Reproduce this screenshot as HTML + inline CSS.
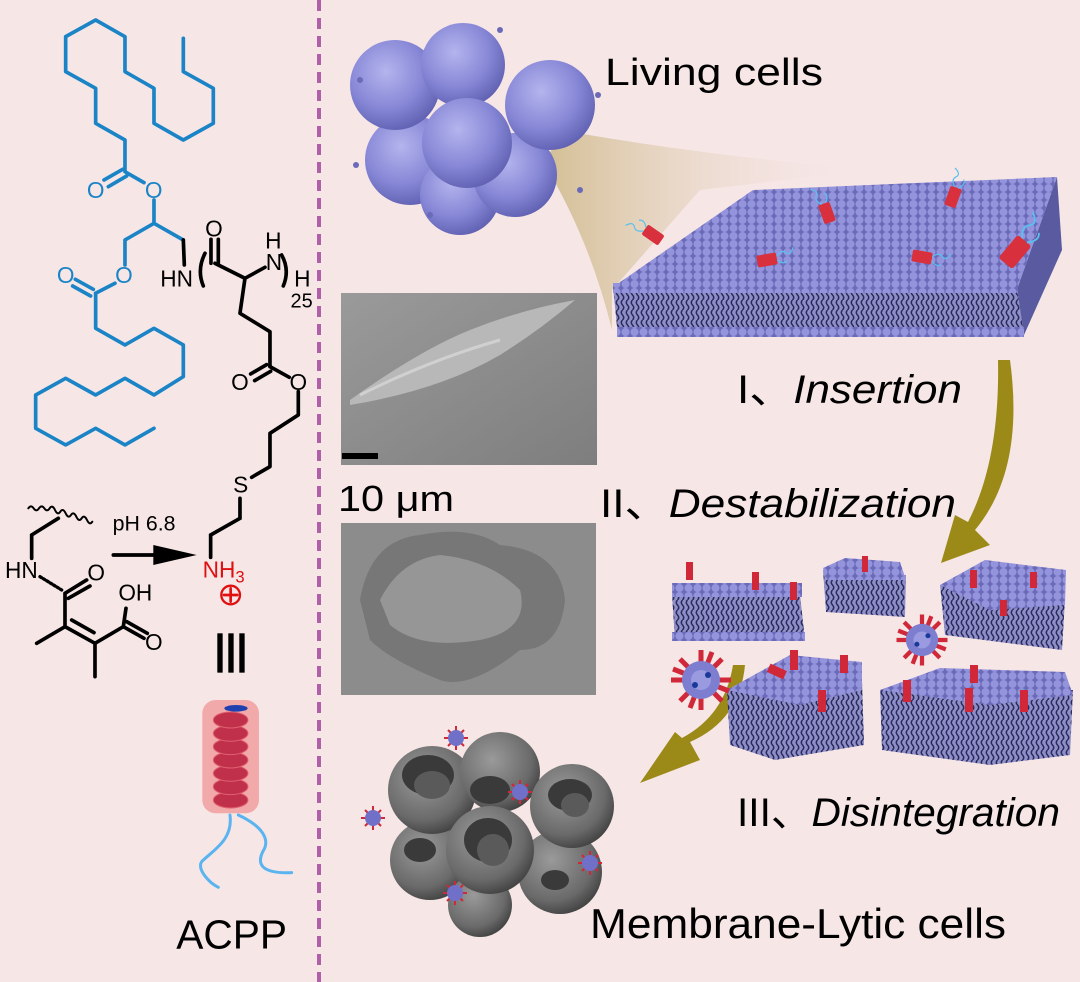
<!DOCTYPE html>
<html><head><meta charset="utf-8"><style>
html,body{margin:0;padding:0;background:#f6e6e6;}
svg{display:block;}
text{font-family:"Liberation Sans",sans-serif;}
</style></head><body>
<svg width="1080" height="982" viewBox="0 0 1080 982" xmlns="http://www.w3.org/2000/svg">
<defs>
<radialGradient id="cell" cx="0.4" cy="0.35" r="0.7">
<stop offset="0" stop-color="#b4b4ee"/><stop offset="0.6" stop-color="#8686d6"/><stop offset="1" stop-color="#5e5eb0"/>
</radialGradient>
<radialGradient id="dead" cx="0.4" cy="0.35" r="0.7">
<stop offset="0" stop-color="#9a9a9a"/><stop offset="0.7" stop-color="#6a6a6a"/><stop offset="1" stop-color="#3e3e3e"/>
</radialGradient>
<linearGradient id="cone" x1="0" y1="0" x2="1" y2="0">
<stop offset="0" stop-color="#c8b27a" stop-opacity="0.9"/><stop offset="1" stop-color="#f6e6e6" stop-opacity="0"/>
</linearGradient>
<pattern id="heads" width="9" height="8" patternUnits="userSpaceOnUse">
<rect width="9" height="8" fill="#6a6ab8"/><circle cx="4.5" cy="4" r="4" fill="#9494dc"/>
</pattern>
<pattern id="tails" width="5" height="10" patternUnits="userSpaceOnUse">
<rect width="5" height="10" fill="#8e8ec8"/><path d="M2.5,0 Q0,2.5 2.5,5 Q5,7.5 2.5,10" stroke="#2a2a5a" stroke-width="1.5" fill="none"/>
</pattern>
<linearGradient id="sem1" x1="0" y1="0" x2="1" y2="1">
<stop offset="0" stop-color="#9a9a9a"/><stop offset="1" stop-color="#7e7e7e"/>
</linearGradient>
<g id="pep"><rect x="-6" y="-10" width="12" height="20" rx="2" fill="#d8303c"/><path d="M-2,-10 q-6,-6 -2,-10 t-4,-8 M2,-10 q6,-6 2,-10" stroke="#5ac0f0" stroke-width="1.2" fill="none"/></g>
<g id="mic"><g stroke="#d02838" stroke-width="5"><line x1="-30" y1="0" x2="30" y2="0"/><line x1="0" y1="-30" x2="0" y2="30"/><line x1="-21" y1="-21" x2="21" y2="21"/><line x1="-21" y1="21" x2="21" y2="-21"/><line x1="-28" y1="-11" x2="28" y2="11"/><line x1="-11" y1="28" x2="11" y2="-28"/></g><circle r="19" fill="#7e7ed0"/><circle r="10" fill="#9a9ae0"/><circle cx="-6" cy="5" r="3" fill="#1a3a9a"/><circle cx="7" cy="-5" r="3" fill="#1a3a9a"/></g>
<g id="smic"><g stroke="#d02838" stroke-width="2"><line x1="-12" y1="0" x2="12" y2="0"/><line x1="0" y1="-12" x2="0" y2="12"/><line x1="-8" y1="-8" x2="8" y2="8"/><line x1="-8" y1="8" x2="8" y2="-8"/></g><circle r="8" fill="#7070c8"/></g>
</defs>

<rect width="1080" height="982" fill="#f6e6e6"/>
<line x1="319" y1="0" x2="319" y2="982" stroke="#b060a8" stroke-width="4" stroke-dasharray="11,7"/>

<g transform="scale(0.3333)" fill="none" stroke-linejoin="round" stroke-linecap="round">
<g stroke="#1a84c6" stroke-width="11">
<path d="M550,115 L550,215 L640,265 L640,370 L550,420 L462,370 L462,265 L375,215 L375,110 L287,60 L197,110 L197,215 L287,265 L287,370 L375,420 L375,515"/>
<path d="M368,508 L312,540 M380,528 L325,560 M378,517 L432,548"/>
<path d="M462,600 L462,670 L375,720 L375,795 M462,670 L550,720"/>
<path d="M345,850 L287,880 M280,868 L226,838 M272,888 L218,858"/>
<path d="M287,880 L287,985 L375,1035 L462,985 L550,1035 L550,1130 L462,1185 L375,1135 L287,1185 L197,1135 L107,1185 L107,1285 L197,1335 L287,1285 L375,1335 L462,1285"/>
</g>
<g fill="#1a84c6" font-size="68" text-anchor="middle"><text x="287" y="594" stroke="none">O</text><text x="461" y="594" stroke="none">O</text><text x="372" y="849" stroke="none">O</text><text x="197" y="849" stroke="none">O</text></g>
<g stroke="#000" stroke-width="11">
<path d="M550,720 L553,795"/>
<path d="M633,718 L633,790 M655,718 L655,790 M645,790 L735,835 L795,802 M735,835 L720,940 L810,995 L810,1100"/>
<path d="M800,1094 L752,1122 M812,1114 L764,1142 M810,1100 L868,1132 M895,1175 L895,1245 L810,1300 L810,1400 L755,1432"/>
<path d="M615,760 Q590,810 610,858 M845,765 Q870,810 850,858"/>
</g>
<g fill="#000" font-size="68" text-anchor="middle" stroke="none">
<text x="530" y="860">HN</text><text x="642" y="710">O</text><text x="822" y="810">N</text><text x="820" y="745">H</text><text x="907" y="860">H</text><text x="905" y="922" font-size="60">25</text><text x="720" y="1170">O</text><text x="895" y="1170">O</text>
</g>
</g>

<g transform="translate(0,480) scale(0.3333)" fill="none" stroke-linecap="round">
<text x="722" y="38" font-size="68" text-anchor="middle" fill="#000">S</text>
<path d="M720,55 L720,115 L632,165 L632,232" stroke="#000" stroke-width="11"/>
<text x="608" y="292" font-size="68" fill="#e01010">NH<tspan font-size="50" dy="16">3</tspan></text>
<circle cx="692" cy="345" r="28" stroke="#e01010" stroke-width="7"/>
<path d="M692,325 L692,365 M672,345 L712,345" stroke="#e01010" stroke-width="8"/>
<rect x="652" y="460" width="16" height="118" fill="#000"/><rect x="685" y="460" width="16" height="118" fill="#000"/><rect x="718" y="460" width="16" height="118" fill="#000"/>
<path d="M85,85 q8,-12 16,0 t16,0 t16,0 t16,0 t16,5 t16,5 t16,5 t16,5 t16,5 t16,5 t16,5 t16,5" stroke="#000" stroke-width="6"/>
<path d="M175,115 L95,165 L95,235 M195,340 L260,300 M205,355 L270,318 M195,340 L195,440 L110,490 M195,440 L285,490 M215,420 L282,458 M285,490 L285,590 M285,490 L370,440 L378,385 M370,440 L432,475 M380,425 L442,460" stroke="#000" stroke-width="11"/>
<path d="M120,290 L185,330" stroke="#000" stroke-width="10" stroke-dasharray="5,7"/>
<g fill="#000" font-size="68"><text x="15" y="294">HN</text><text x="262" y="302">O</text><text x="355" y="362">OH</text><text x="435" y="510">O</text><text x="338" y="152" font-size="64">pH 6.8</text></g>
<path d="M340,225 L470,225" stroke="#000" stroke-width="11"/>
<polygon points="460,195 590,225 460,255" fill="#000"/>
<rect x="607" y="660" width="170" height="340" rx="40" fill="#f08080" fill-opacity="0.6"/>
<g fill="#c0304a" stroke="#e06070" stroke-width="3">
<ellipse cx="692" cy="960" rx="52" ry="24"/><ellipse cx="692" cy="920" rx="52" ry="24"/><ellipse cx="692" cy="880" rx="52" ry="24"/><ellipse cx="692" cy="840" rx="52" ry="24"/><ellipse cx="692" cy="800" rx="52" ry="24"/><ellipse cx="692" cy="760" rx="52" ry="24"/><ellipse cx="692" cy="720" rx="52" ry="24"/>
</g>
<ellipse cx="708" cy="685" rx="35" ry="10" fill="#2040b0"/>
<path d="M690,1005 C700,1080 640,1110 605,1145 C590,1170 630,1210 655,1222 M715,1005 C790,1040 810,1080 790,1112 C770,1150 780,1182 875,1178" stroke="#5ab4f0" stroke-width="9"/>
<text x="695" y="1405" font-size="122" text-anchor="middle" fill="#000">ACPP</text>
</g>

<path d="M560,130 Q700,155 870,170 L700,190 L612,290 L612,330 Q590,240 545,165 Z" fill="url(#cone)" opacity="0.85"/>
<g>
<circle cx="410" cy="160" r="45" fill="url(#cell)"/>
<circle cx="460" cy="195" r="40" fill="url(#cell)"/>
<circle cx="515" cy="175" r="42" fill="url(#cell)"/>
<circle cx="395" cy="85" r="45" fill="url(#cell)"/>
<circle cx="463" cy="65" r="42" fill="url(#cell)"/>
<circle cx="550" cy="105" r="45" fill="url(#cell)"/>
<circle cx="467" cy="143" r="45" fill="url(#cell)"/>
<g fill="#6a6ab8"><circle cx="360" cy="80" r="3"/><circle cx="598" cy="95" r="3"/><circle cx="500" cy="30" r="3"/><circle cx="356" cy="165" r="3"/><circle cx="430" cy="215" r="3"/><circle cx="580" cy="190" r="3"/></g>
</g>
<text x="605" y="85" font-size="38" textLength="218" lengthAdjust="spacingAndGlyphs" fill="#000">Living cells</text>

<polygon points="613,287 1017,289 1024,335 618,337" fill="url(#tails)"/>
<polygon points="1017,289 1057,177 1062,250 1024,335" fill="#5a5aa0"/>
<polygon points="613,287 753,190 1057,177 1017,289" fill="url(#heads)"/>
<rect x="613" y="283" width="405" height="10" fill="url(#heads)"/>
<rect x="617" y="327" width="407" height="10" fill="url(#heads)"/>
<use href="#pep" transform="translate(653,235) rotate(-55)"/>
<use href="#pep" transform="translate(827,213) rotate(-20)"/>
<use href="#pep" transform="translate(953,197) rotate(20)"/>
<use href="#pep" transform="translate(767,260) rotate(80)"/>
<use href="#pep" transform="translate(922,257) rotate(100)"/>
<use href="#pep" transform="translate(1015,252) rotate(40) scale(1.5)"/>
<text x="737" y="403" font-size="40" fill="#000" textLength="225" lengthAdjust="spacingAndGlyphs">I、<tspan font-style="italic">Insertion</tspan></text>

<rect x="341" y="293" width="256" height="172" fill="url(#sem1)"/>
<path d="M350,400 Q420,350 470,330 Q520,310 575,300 Q540,330 500,355 Q440,390 350,405 Z" fill="#b8b8b8"/>
<path d="M360,395 Q430,360 500,340" stroke="#d0d0d0" stroke-width="3" fill="none"/>
<rect x="342" y="453" width="36" height="6" fill="#000"/>
<text x="338" y="511" font-size="36" fill="#000" textLength="116" lengthAdjust="spacingAndGlyphs">10 μm</text>
<rect x="341" y="523" width="255" height="172" fill="#8c8c8c"/>
<path d="M360,600 Q370,540 420,535 Q470,525 500,545 Q560,550 565,600 Q560,650 520,650 Q470,690 440,680 Q390,660 370,640 Z" fill="#777"/>
<path d="M380,600 Q400,560 440,555 Q490,560 520,590 Q530,630 480,640 Q420,650 390,625 Z" fill="#a4a4a4" opacity="0.7"/>
<text x="600" y="517" font-size="40" fill="#000" textLength="356" lengthAdjust="spacingAndGlyphs">II、<tspan font-style="italic">Destabilization</tspan></text>

<path d="M1010,360 Q1025,470 975,530 L990,545 L941,563 L955,515 L968,522 Q1000,460 998,360 Z" fill="#9c8a18"/>
<path d="M745,665 Q740,720 690,742 L700,760 L640,783 L675,732 L682,738 Q725,715 733,665 Z" fill="#9c8a18"/>

<g>
<polygon points="672,595 800,595 805,640 675,640" fill="url(#tails)"/><rect x="672" y="583" width="130" height="14" fill="url(#heads)"/><rect x="672" y="632" width="133" height="9" fill="url(#heads)"/>
<rect x="686" y="562" width="7" height="18" fill="#d02838"/><rect x="752" y="572" width="7" height="18" fill="#d02838"/><rect x="790" y="582" width="7" height="18" fill="#d02838"/>
<polygon points="823,570 906,575 905,617 826,612" fill="url(#tails)"/><polygon points="823,568 845,558 900,562 906,580 826,580" fill="url(#heads)"/>
<rect x="862" y="556" width="6" height="16" fill="#d02838"/>
<polygon points="940,585 1065,600 1062,650 945,635" fill="url(#tails)"/><polygon points="940,585 985,560 1066,570 1065,605 990,610" fill="url(#heads)"/>
<rect x="970" y="570" width="7" height="18" fill="#d02838"/><rect x="1030" y="572" width="7" height="16" fill="#d02838"/><rect x="1000" y="600" width="7" height="16" fill="#d02838"/>
<polygon points="727,690 862,680 864,745 775,760 730,745" fill="url(#tails)"/><polygon points="727,690 790,655 862,662 862,690 800,705" fill="url(#heads)"/>
<rect x="790" y="650" width="8" height="20" fill="#d02838"/><rect x="840" y="655" width="8" height="18" fill="#d02838"/><rect x="818" y="690" width="8" height="22" fill="#d02838"/><rect x="768" y="667" width="18" height="9" fill="#d02838" transform="rotate(25 777 671)"/>
<polygon points="880,690 1073,690 1070,755 990,765 882,750" fill="url(#tails)"/><polygon points="880,690 940,668 1065,672 1073,695 990,705" fill="url(#heads)"/>
<rect x="903" y="680" width="8" height="22" fill="#d02838"/><rect x="965" y="688" width="8" height="24" fill="#d02838"/><rect x="1020" y="690" width="8" height="22" fill="#d02838"/><rect x="970" y="665" width="8" height="18" fill="#d02838"/>
<use href="#mic" transform="translate(701,680)"/>
<use href="#mic" transform="translate(922,640) scale(0.85)"/>
</g>
<text x="737" y="826" font-size="40" fill="#000" textLength="323" lengthAdjust="spacingAndGlyphs">III、<tspan font-style="italic">Disintegration</tspan></text>

<g>
<circle cx="430" cy="860" r="40" fill="url(#dead)"/>
<circle cx="560" cy="872" r="42" fill="url(#dead)"/>
<circle cx="480" cy="905" r="32" fill="url(#dead)"/>
<circle cx="432" cy="790" r="44" fill="url(#dead)"/>
<circle cx="500" cy="772" r="40" fill="url(#dead)"/>
<circle cx="572" cy="806" r="42" fill="url(#dead)"/>
<circle cx="490" cy="850" r="44" fill="url(#dead)"/>
<g fill="#3a3a3a"><ellipse cx="428" cy="775" rx="26" ry="20"/><ellipse cx="490" cy="790" rx="20" ry="14"/><ellipse cx="570" cy="795" rx="22" ry="16"/><ellipse cx="488" cy="840" rx="24" ry="22"/><ellipse cx="420" cy="850" rx="16" ry="12"/><ellipse cx="555" cy="880" rx="14" ry="10"/></g>
<g fill="#5a5a5a"><ellipse cx="432" cy="785" rx="18" ry="14"/><ellipse cx="493" cy="850" rx="16" ry="16"/><ellipse cx="575" cy="805" rx="14" ry="12"/></g>
<use href="#smic" transform="translate(456,738)"/><use href="#smic" transform="translate(520,792)"/><use href="#smic" transform="translate(373,818)"/><use href="#smic" transform="translate(590,863)"/><use href="#smic" transform="translate(455,893)"/>
</g>
<text x="590" y="938" font-size="42" fill="#000" textLength="416" lengthAdjust="spacingAndGlyphs">Membrane-Lytic cells</text>
</svg>
</body></html>
